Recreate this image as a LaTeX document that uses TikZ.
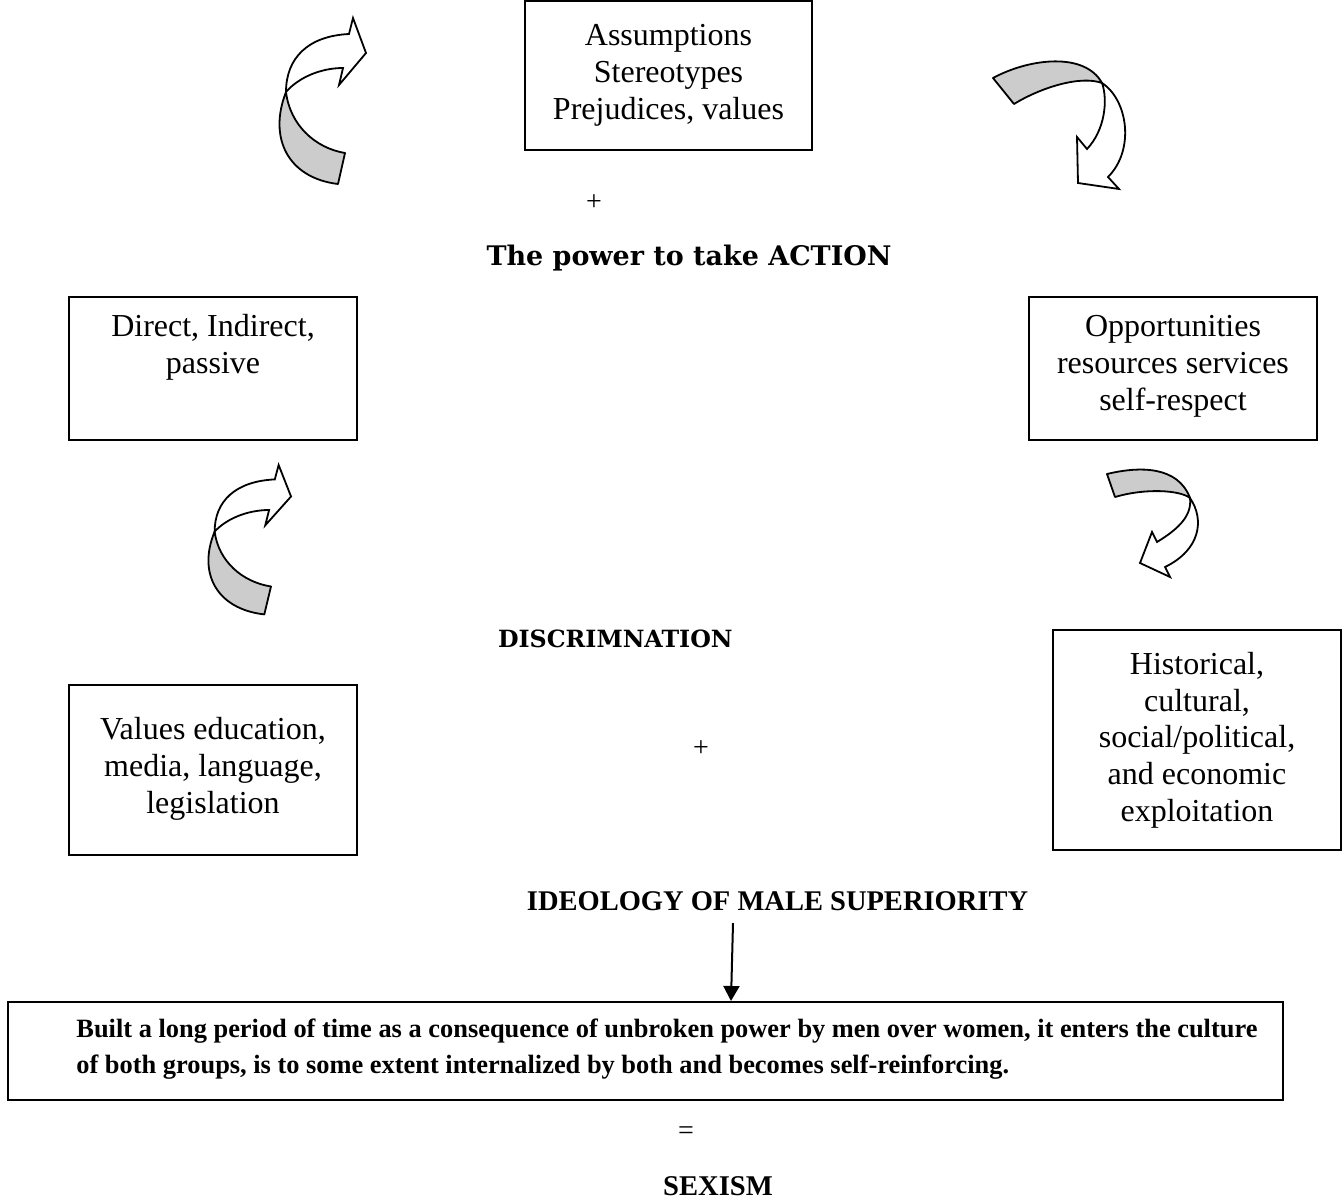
\documentclass[tikz,border=0pt]{standalone}
\usepackage{fontspec}
\setmainfont{Liberation Serif}
\newfontfamily\bookman{DejaVu Serif}
\usetikzlibrary{arrows.meta}
\begin{document}
\begin{tikzpicture}[x=0.5pt,y=-0.5pt,
  box/.style={draw, line width=1pt, rectangle, inner sep=0pt},
  txt/.style={align=center, inner sep=0pt, anchor=base, font=\fontsize{16}{18.3}\selectfont},
  sym/.style={inner sep=0pt, font=\fontsize{14}{16}\selectfont},
  ttl/.style={inner sep=0pt, anchor=base},
  bandgray/.style={draw, line width=0.9pt, fill=black!20, line join=round},
  bandwhite/.style={draw, line width=0.9pt, fill=white, line join=miter},
  arr/.style={line width=1pt, -{Triangle[width=8pt,length=7.5pt]}},
  curlright/.pic={
    \path[bandgray] (8,74) .. controls (12,107) and (37,130) .. (67,135)
       -- (60,166) .. controls (10,160) and (-10,120) .. (8,74) -- cycle;
    \path[bandwhite] (8,74) .. controls (8,40) and (30,18) .. (71,16)
       -- (75,0) -- (88,35) -- (61,67) -- (65,50)
       .. controls (42,50) and (20,60) .. (8,74) -- cycle;
  }]
\useasboundingbox (0,0) rectangle (1344,1200);

% boxes
\node[box, minimum width=143.5pt, minimum height=74.5pt] (topbox) at (668.5,75.5) {};
\node[box, minimum width=144pt, minimum height=71.5pt] (directbox) at (213,368.5) {};
\node[box, minimum width=144pt, minimum height=71.5pt] (oppbox) at (1173,368.5) {};
\node[box, minimum width=144pt, minimum height=85pt] (valuesbox) at (213,770) {};
\node[box, minimum width=144pt, minimum height=110pt] (histbox) at (1197,740) {};
\node[box, minimum width=637.5pt, minimum height=49pt] (bottombox) at (645.5,1051) {};

% box texts (anchored at the baseline of their last line)
\node[txt] (toptext) at (668.5,119) {Assumptions\\Stereotypes\\Prejudices, values};
\node[txt] (directtext) at (213,373) {Direct, Indirect,\\passive};
\node[txt] (opptext) at (1173,410) {Opportunities\\resources services\\self-respect};
\node[txt] (valuestext) at (213,813) {Values education,\\media, language,\\legislation};
\node[txt] (histtext) at (1197,821) {Historical,\\cultural,\\social/political,\\and economic\\exploitation};
\node[inner sep=0pt, anchor=base west, align=left,
      font=\fontsize{13.2}{18}\selectfont\bfseries] (bottomtext) at (76,1073)
  {Built a long period of time as a consequence of unbroken power by men over women, it enters the culture\\
   of both groups, is to some extent internalized by both and becomes self-reinforcing.};

% free labels
\node[sym] (plus1) at (594,203) {+};
\node[ttl] (power) at (689,265) {\resizebox{202.5pt}{!}{\bookman\bfseries The power to take ACTION}};
\node[ttl, anchor=base east] (discr) at (733,647) {\resizebox{!}{8.8pt}{\bookman\bfseries DISCRIMNATION}};
\node[sym] (plus2) at (701,749) {+};
\node[ttl, font=\fontsize{14.25}{16}\selectfont\bfseries] (ideo) at (777.5,910) {IDEOLOGY OF MALE SUPERIORITY};
\node[sym] (equals) at (686,1133) {=};
\node[ttl, font=\fontsize{14.3}{16}\selectfont\bfseries] (sexism) at (718,1195) {SEXISM};

% connector
\coordinate (ideotail) at (733,923);
\draw[arr] (ideotail) -- ([xshift=42.75pt]bottombox.north);

% curved arrows (left side)
\pic at (278,18) {curlright};
\pic[xscale=0.955, yscale=0.9] at (207,465) {curlright};

% curved arrows (right side)
\path[bandgray] (993,78) .. controls (1030,58) and (1085,52) .. (1102,83)
   .. controls (1080,75) and (1040,88) .. (1014,104) -- cycle;
\path[bandwhite] (1102,83) .. controls (1128,100) and (1135,150) .. (1108,177)
   -- (1119,189) -- (1078,183) -- (1077,137) -- (1087,149)
   .. controls (1105,130) and (1108,100) .. (1102,83) -- cycle;

\path[bandgray] (1107,474) .. controls (1140,466) and (1178,466) .. (1190,498)
   .. controls (1180,490) and (1145,488) .. (1115,497) -- cycle;
\path[bandwhite] (1190,498) .. controls (1205,520) and (1200,550) .. (1165,567)
   -- (1170,577) -- (1140,563) -- (1152,532) -- (1157,542)
   .. controls (1180,528) and (1192,515) .. (1190,498) -- cycle;
\end{tikzpicture}
\end{document}
